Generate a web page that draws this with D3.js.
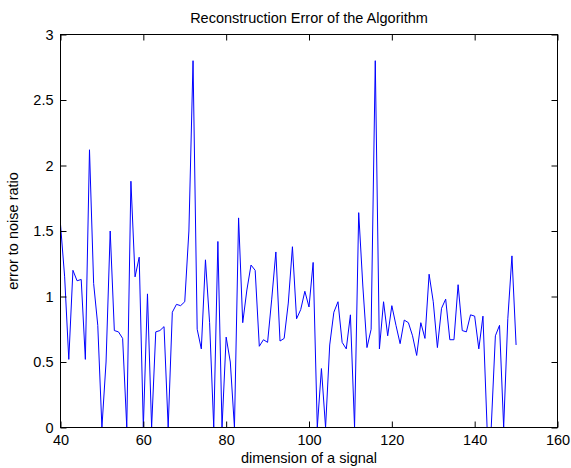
<!DOCTYPE html>
<html>
<head>
<meta charset="utf-8">
<script src="https://cdn.jsdelivr.net/npm/d3@7"></script>
<style>
  body { margin: 0; background: #fff; }
  svg text { font-family: Arial, "Liberation Sans", sans-serif; fill: #000; }
</style>
</head>
<body>
<svg id="chart" width="571" height="468"></svg>
<script>
// signal dimension (x) and error/noise ratio
var dims = d3.range(40, 151);
var errRatio = [
  1.55, 1.15, 0.52, 1.20, 1.12, 1.13, 0.52, 2.12, 1.10, 0.78,
  0.00, 0.50, 1.50, 0.74, 0.73, 0.68, 0.00, 1.88, 1.15, 1.30,
  0.00, 1.02, 0.00, 0.73, 0.74, 0.77, 0.00, 0.88, 0.94, 0.93,
  0.96, 1.50, 2.80, 0.75, 0.60, 1.28, 0.80, 0.00, 1.42, 0.00,
  0.69, 0.50, 0.00, 1.60, 0.80, 1.05, 1.24, 1.20, 0.62, 0.67,
  0.65, 0.98, 1.34, 0.66, 0.68, 0.95, 1.38, 0.83, 0.90, 1.04,
  0.92, 1.26, 0.00, 0.45, 0.00, 0.63, 0.88, 0.96, 0.65, 0.60,
  0.86, 0.00, 1.64, 1.08, 0.61, 0.75, 2.80, 0.60, 0.96, 0.70,
  0.93, 0.78, 0.64, 0.82, 0.80, 0.70, 0.55, 0.80, 0.68, 1.17,
  0.96, 0.61, 0.91, 0.98, 0.67, 0.67, 1.09, 0.74, 0.73, 0.86,
  0.85, 0.60, 0.85, 0.00, 0.00, 0.70, 0.78, 0.00, 0.83, 1.31,
  0.63
];
var xTicks = [40, 60, 80, 100, 120, 140, 160];
var yTicks = [0, 0.5, 1, 1.5, 2, 2.5, 3];
var yTickLabels = ["0", "0.5", "1", "1.5", "2", "2.5", "3"];

var svg = d3.select("#chart");
var pLeft = 60.5, pRight = 557.5, pTop = 34.5, pBottom = 427.5;
var fs = "14.5px";

var x = d3.scaleLinear().domain([40, 160]).range([pLeft, pRight]);
var y = d3.scaleLinear().domain([0, 3]).range([pBottom, pTop]);

svg.append("rect").attr("width", 571).attr("height", 468).attr("fill", "#fff");

svg.append("clipPath").attr("id", "plotclip")
  .append("rect").attr("x", pLeft).attr("y", pTop)
  .attr("width", pRight - pLeft).attr("height", pBottom - pTop);

// the data line
var pts = dims.map(function(d, i) { return [d, errRatio[i]]; });
svg.append("path")
  .datum(pts)
  .attr("clip-path", "url(#plotclip)")
  .attr("fill", "none")
  .attr("stroke", "#0000ff")
  .attr("stroke-width", 1)
  .attr("d", d3.line().x(function(d) { return x(d[0]); }).y(function(d) { return y(d[1]); }));

// axes, ticks pointing inward like matlab
var gx = svg.append("g").attr("transform", "translate(0," + pBottom + ")")
  .call(d3.axisBottom(x).tickValues(xTicks).tickSizeInner(-6).tickSizeOuter(0).tickPadding(7));
var gxt = svg.append("g").attr("transform", "translate(0," + pTop + ")")
  .call(d3.axisTop(x).tickValues(xTicks).tickSizeInner(-6).tickSizeOuter(0).tickFormat(""));
var gy = svg.append("g").attr("transform", "translate(" + pLeft + ",0)")
  .call(d3.axisLeft(y).tickValues(yTicks).tickSizeInner(-6).tickSizeOuter(0).tickPadding(7)
    .tickFormat(function(d, i) { return yTickLabels[i]; }));
var gyr = svg.append("g").attr("transform", "translate(" + pRight + ",0)")
  .call(d3.axisRight(y).tickValues(yTicks).tickSizeInner(-6).tickSizeOuter(0).tickFormat(""));

[gx, gxt, gy, gyr].forEach(function(g) {
  g.select(".domain").remove();
  g.selectAll("line").attr("stroke", "#000");
  g.selectAll("text").style("font-size", fs).attr("fill", "#000");
});

// frame
svg.append("rect")
  .attr("x", pLeft).attr("y", pTop)
  .attr("width", pRight - pLeft).attr("height", pBottom - pTop)
  .attr("fill", "none").attr("stroke", "#000").attr("stroke-width", 1);

// titles
svg.append("text").attr("x", (pLeft + pRight) / 2).attr("y", 23)
  .attr("text-anchor", "middle").style("font-size", fs)
  .text("Reconstruction Error of the Algorithm");
svg.append("text").attr("x", (pLeft + pRight) / 2).attr("y", 463)
  .attr("text-anchor", "middle").style("font-size", fs)
  .text("dimension of a signal");
svg.append("text")
  .attr("transform", "translate(18," + y(1.5) + ") rotate(-90)")
  .attr("text-anchor", "middle").style("font-size", fs)
  .text("error to noise ratio");
</script>
</body>
</html>
